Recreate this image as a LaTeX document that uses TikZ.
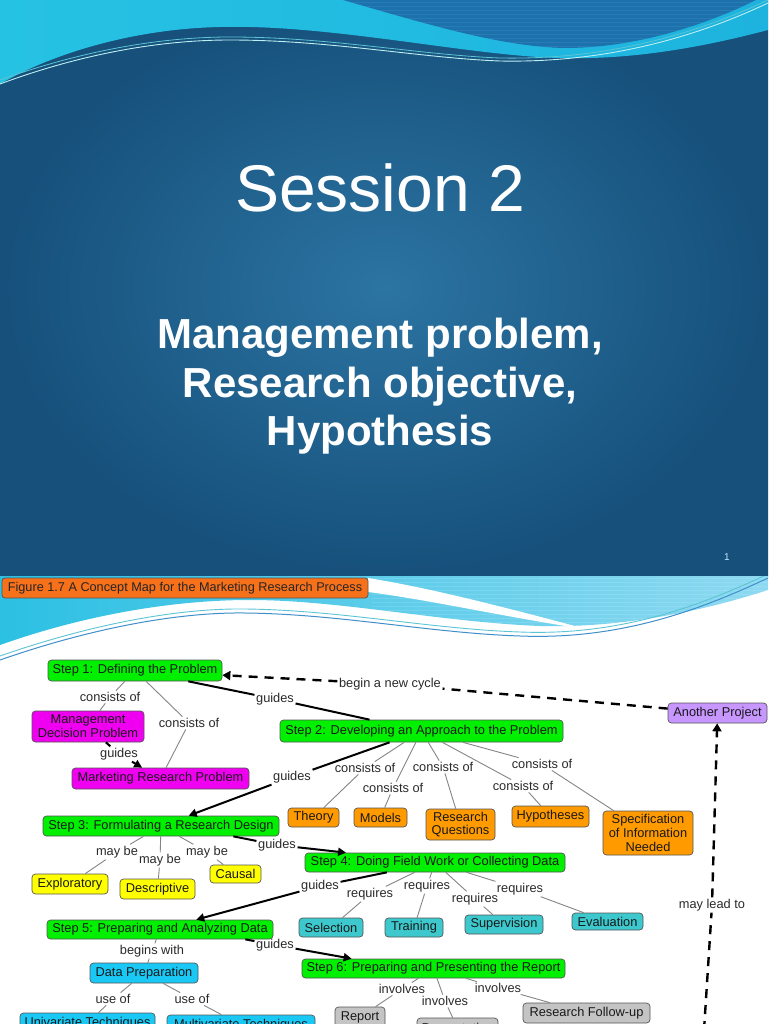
\documentclass[tikz,border=0pt]{standalone}
\usepackage{fontspec}
\setmainfont{Liberation Sans}
\usetikzlibrary{arrows.meta}
\definecolor{topin}{HTML}{2C74A2}
\definecolor{topout}{HTML}{16507B}
\definecolor{cyanL}{HTML}{26C2E3}
\definecolor{cyanR}{HTML}{1DB3DE}
\definecolor{toprt}{HTML}{1B72AD}
\definecolor{lightline}{HTML}{BDEFF3}
\definecolor{cyanbL}{HTML}{2CC0E3}
\definecolor{cyanbR}{HTML}{8ED9F1}
\definecolor{waveblue}{HTML}{3F8FC9}
\definecolor{waveteal}{HTML}{5CC4D4}
\definecolor{stepgreen}{HTML}{00F000}
\definecolor{mag}{HTML}{F000F0}
\definecolor{orng}{HTML}{FF9A00}
\definecolor{lav}{HTML}{C896FF}
\definecolor{yel}{HTML}{FFFF00}
\definecolor{tealc}{HTML}{3CC8CC}
\definecolor{sky}{HTML}{19C8F5}
\definecolor{gry}{HTML}{C4C4C4}
\definecolor{figor}{HTML}{F7701A}
\definecolor{linkgray}{HTML}{858585}
\definecolor{lbltext}{HTML}{2A2A2A}
\definecolor{bordc}{HTML}{555555}
\begin{document}
\begin{tikzpicture}[x=1pt,y=-1pt,
  cbox/.style={rounded corners=3.5pt, draw=bordc, line width=0.7pt, inner sep=1pt, align=center,
    font=\fontsize{12.8}{13.8}\selectfont, text=black!90},
  lbl/.style={font=\fontsize{12.8}{13.5}\selectfont, text=lbltext, inner sep=1.5pt},
  lnk/.style={draw=linkgray, line width=0.9pt},
  gd/.style={draw=black, line width=2pt},
  gdar/.style={draw=black, line width=2pt, -{Triangle[length=8pt,width=8pt]}},
  cyc/.style={draw=black, line width=2.4pt, dash pattern=on 9pt off 7pt},
  cycar/.style={cyc, -{Triangle[length=8pt,width=9pt]}}
]
\useasboundingbox (0,0) rectangle (768,1024);
% ---------------- top slide ----------------
\shade[inner color=topin, outer color=topout] (0,0) rectangle (768,576);
\shade[left color=cyanL, right color=cyanR] (0,0) -- (768,0) -- (768,30)
  .. controls (700,48) and (630,60) .. (560,58)
  .. controls (470,56) and (330,24) .. (220,27)
  .. controls (130,29) and (50,55) .. (0,84) -- cycle;
\begin{scope}
\clip (343,0) .. controls (420,22) and (500,47) .. (565,48)
  .. controls (640,48) and (712,22) .. (756,0) -- cycle;
\fill[toprt] (340,0) rectangle (768,50);
\foreach \yy in {3,7,...,47} \draw[white, opacity=0.07, line width=1pt] (340,\yy) -- (768,\yy);
\end{scope}
\draw[line width=0.9pt, lightline] (0,84) .. controls (70,58) and (150,40) .. (230,40)
  .. controls (330,40) and (420,58) .. (500,61) .. controls (600,63) and (690,40) .. (768,3);
\draw[line width=0.8pt, waveteal] (0,80) .. controls (70,55) and (150,37) .. (230,37)
  .. controls (330,37) and (420,55) .. (500,58) .. controls (600,60) and (690,37) .. (768,0);
\node[font=\fontsize{66}{70}\selectfont, text=white, anchor=base] (title) at (380,212) {Session 2};
\node[font=\bfseries\fontsize{42}{46}\selectfont, text=white, anchor=base] (sub1) at (380,348) {Management problem,};
\node[font=\bfseries\fontsize{42}{46}\selectfont, text=white, anchor=base] (sub2) at (380,397) {Research objective,};
\node[font=\bfseries\fontsize{42}{46}\selectfont, text=white, anchor=base] (sub3) at (380,445) {Hypothesis};
\node[font=\fontsize{10}{12}\selectfont, text=white!75!cyan] (pg) at (727,557) {1};
% ---------------- bottom slide ----------------
\begin{scope}
\clip (0,576) rectangle (768,1024);
\fill[white] (0,576) rectangle (768,1024);
\shade[left color=cyanbL, right color=cyanbR] (0,576) -- (768,576) -- (768,590)
  .. controls (700,612) and (620,628) .. (540,626)
  .. controls (440,622) and (340,600) .. (250,600)
  .. controls (160,600) and (70,620) .. (0,645) -- cycle;
\begin{scope}
\clip (372,576) rectangle (768,630);
\foreach \yy in {578,582,...,630} \draw[white, opacity=0.12, line width=1pt] (372,\yy) -- (768,\yy);
\end{scope}
\fill[white] (368,578) .. controls (430,588) and (500,606) .. (590,630)
  .. controls (500,616) and (430,600) .. (368,592) -- cycle;
\draw[line width=1pt, waveblue] (0,660) .. controls (80,632) and (170,612) .. (245,613)
  .. controls (340,614) and (430,633) .. (520,636) .. controls (620,640) and (700,610) .. (768,578);
\draw[line width=0.9pt, waveteal] (0,656) .. controls (80,628) and (170,608) .. (245,609)
  .. controls (340,610) and (430,629) .. (520,632) .. controls (620,636) and (700,606) .. (768,574);
% figure title
\node[rounded corners=3pt, draw=bordc, line width=0.7pt, fill=figor, minimum width=366pt, minimum height=20pt,
  inner sep=0pt, font=\fontsize{12.7}{14}\selectfont, text=black!85] (fig) at (185,588)
  {Figure 1.7 A Concept Map for the Marketing Research Process};
% ---- concept nodes ----
\node[cbox, fill=stepgreen, minimum width=174pt, minimum height=21pt] (s1) at (135,670.5) {Step 1: Defining the Problem};
\node[cbox, fill=mag, minimum width=112pt, minimum height=31pt] (mdp) at (88,726.5) {Management\\Decision Problem};
\node[cbox, fill=mag, minimum width=177pt, minimum height=21pt] (mrp) at (160.5,778.5) {Marketing Research Problem};
\node[cbox, fill=stepgreen, minimum width=283pt, minimum height=22pt] (s2) at (421.5,731) {Step 2: Developing an Approach to the Problem};
\node[cbox, fill=lav, minimum width=99pt, minimum height=20pt] (ap) at (717.5,713) {Another Project};
\node[cbox, fill=orng, minimum width=51pt, minimum height=19pt] (theory) at (313.5,817.5) {Theory};
\node[cbox, fill=orng, minimum width=53pt, minimum height=19pt] (models) at (380.5,817.5) {Models};
\node[cbox, fill=orng, minimum width=69pt, minimum height=31pt] (rq) at (460.5,824.5) {Research\\Questions};
\node[cbox, fill=orng, minimum width=77pt, minimum height=21pt] (hyp) at (550.5,816.5) {Hypotheses};
\node[cbox, fill=orng, minimum width=90pt, minimum height=44pt] (spec) at (648,833) {Specification\\of Information\\Needed};
\node[cbox, fill=stepgreen, minimum width=236pt, minimum height=20pt] (s3) at (161,826) {Step 3: Formulating a Research Design};
\node[cbox, fill=yel, minimum width=76pt, minimum height=20pt] (expl) at (70,884) {Exploratory};
\node[cbox, fill=yel, minimum width=75pt, minimum height=20pt] (desc) at (157.5,889) {Descriptive};
\node[cbox, fill=yel, minimum width=51pt, minimum height=18pt] (causal) at (235.5,874) {Causal};
\node[cbox, fill=stepgreen, minimum width=260pt, minimum height=19pt] (s4) at (435,862.5) {Step 4: Doing Field Work or Collecting Data};
\node[cbox, fill=tealc, minimum width=64pt, minimum height=19pt] (sel) at (331,927.5) {Selection};
\node[cbox, fill=tealc, minimum width=58pt, minimum height=19pt] (train) at (414,927.5) {Training};
\node[cbox, fill=tealc, minimum width=78pt, minimum height=19pt] (sup) at (504,924.5) {Supervision};
\node[cbox, fill=tealc, minimum width=71pt, minimum height=17pt] (eval) at (607.5,921.5) {Evaluation};
\node[cbox, fill=stepgreen, minimum width=226pt, minimum height=19pt] (s5) at (160,929.5) {Step 5: Preparing and Analyzing Data};
\node[cbox, fill=sky, minimum width=108pt, minimum height=20pt] (dp) at (144,973) {Data Preparation};
\node[cbox, fill=sky, minimum width=135pt, minimum height=20pt] (uni) at (87.5,1023) {Univariate Techniques};
\node[cbox, fill=sky, minimum width=148pt, minimum height=20pt] (multi) at (241,1025) {Multivariate Techniques};
\node[cbox, fill=stepgreen, minimum width=263pt, minimum height=19pt] (s6) at (433.5,968.5) {Step 6: Preparing and Presenting the Report};
\node[cbox, fill=gry, minimum width=50pt, minimum height=20pt] (report) at (360,1017) {Report};
\node[cbox, fill=gry, minimum width=81pt, minimum height=20pt] (pres) at (457.5,1028) {Presentation};
\node[cbox, fill=gry, minimum width=127pt, minimum height=20pt] (rfu) at (586.5,1013) {Research Follow-up};
% ---- labels ----
\node[lbl] (co1) at (110,697) {consists of};
\node[lbl] (co2) at (189,723) {consists of};
\node[lbl] (g0) at (119,754) {guides};
\node[lbl] (g1) at (275,699) {guides};
\node[lbl] (bnc) at (390,684) {begin a new cycle};
\node[lbl] (g2) at (292,777) {guides};
\node[lbl] (co3) at (365,768) {consists of};
\node[lbl] (co4) at (393,788) {consists of};
\node[lbl] (co5) at (443,767) {consists of};
\node[lbl] (co6) at (523,786) {consists of};
\node[lbl] (co7) at (542,764) {consists of};
\node[lbl] (mb1) at (117,852) {may be};
\node[lbl] (mb2) at (160,860) {may be};
\node[lbl] (mb3) at (207,852) {may be};
\node[lbl] (g3) at (277,845) {guides};
\node[lbl] (g4) at (320,886) {guides};
\node[lbl] (rq1) at (370,894) {requires};
\node[lbl] (rq2) at (427,886) {requires};
\node[lbl] (rq3) at (475,899) {requires};
\node[lbl] (rq4) at (520,889) {requires};
\node[lbl] (bw) at (152,951) {begins with};
\node[lbl] (uo1) at (113,999) {use of};
\node[lbl] (uo2) at (192,999) {use of};
\node[lbl] (g5) at (275,945) {guides};
\node[lbl] (inv1) at (402,989) {involves};
\node[lbl] (inv2) at (445,1001) {involves};
\node[lbl] (inv3) at (498,988) {involves};
\node[lbl] (mlt) at (712,905) {may lead to};
\coordinate (mltfoot) at (704,1030);
% ---- connectors ----
\draw[lnk] (s1) -- (co1) -- (mdp);
\draw[lnk] (s1) -- (co2) -- (mrp);
\draw[gd] (mdp) -- (g0);
\draw[gdar] (g0) -- (mrp);
\draw[gd] (s1) -- (g1) -- (s2);
\draw[cyc] (ap) -- (bnc);
\draw[cycar] (bnc) -- (s1);
\draw[gd] (s2) -- (g2);
\draw[gdar] (g2) -- (s3);
\draw[lnk] (s2) -- (co3) -- (theory);
\draw[lnk] (s2) -- (co4) -- (models);
\draw[lnk] (s2) -- (co5) -- (rq);
\draw[lnk] (s2) -- (co6) -- (hyp);
\draw[lnk] (s2) -- (co7) -- (spec);
\draw[lnk] (s3) -- (mb1) -- (expl);
\draw[lnk] (s3) -- (mb2) -- (desc);
\draw[lnk] (s3) -- (mb3) -- (causal);
\draw[gd] ([xshift=-46pt]s3.south east) -- (g3);
\draw[gdar] (g3) -- (s4);
\draw[gd] (s4) -- (g4);
\draw[gdar] (g4) -- (s5);
\draw[lnk] (s4) -- (rq1) -- (sel);
\draw[lnk] (s4) -- (rq2) -- (train);
\draw[lnk] (s4) -- (rq3) -- (sup);
\draw[lnk] (s4) -- (rq4) -- (eval);
\draw[lnk] (s5) -- (bw) -- (dp);
\draw[lnk] (dp) -- (uo1) -- (uni);
\draw[lnk] (dp) -- (uo2) -- (multi);
\draw[gd] ([xshift=-28pt]s5.south east) -- (g5);
\draw[gdar] (g5) -- ([xshift=50pt]s6.north west);
\draw[lnk] (s6) -- (inv1) -- (report);
\draw[lnk] (s6) -- (inv2) -- (pres);
\draw[lnk] (s6) -- (inv3) -- (rfu);
\draw[cyc] (mltfoot) -- (mlt);
\draw[cycar] (mlt) -- (ap);
\end{scope}
\end{tikzpicture}
\end{document}
